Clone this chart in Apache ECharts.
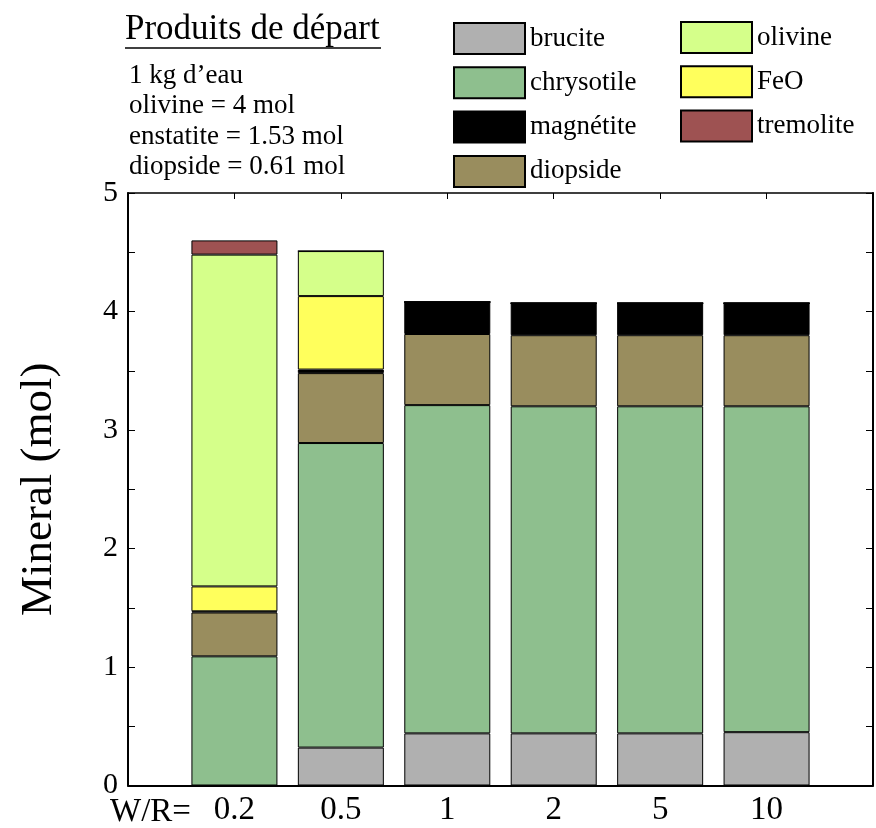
<!DOCTYPE html>
<html>
<head>
<meta charset="utf-8">
<script src="https://cdn.jsdelivr.net/npm/echarts@6/dist/echarts.min.js"></script>
<style>html,body{margin:0;padding:0;background:#fff}#c{width:876px;height:828px}</style>
</head>
<body>
<div id="c"></div>
<script>
// Water/rock ratio categories (empty slots at both ends give the side margins)
const categories = ['', '0.2', '0.5', '1', '2', '5', '10', ''];
// Mineral amounts (mol), stacked bottom to top, for W/R = 0.2, 0.5, 1, 2, 5, 10
const brucite    = [0,    0.32, 0.44, 0.44, 0.44, 0.45];
const chrysotile = [1.09, 2.57, 2.77, 2.76, 2.76, 2.75];
const diopside   = [0.37, 0.59, 0.60, 0.60, 0.60, 0.60];
const magnetite  = [0.01, 0.03, 0.27, 0.27, 0.27, 0.27];
const feo        = [0.21, 0.62, 0,    0,    0,    0];
const olivine    = [2.80, 0.38, 0,    0,    0,    0];
const tremolite  = [0.12, 0,    0,    0,    0,    0];
const yTicks = [0, 1, 2, 3, 4, 5];

const FONT = '"Liberation Serif", "Times New Roman", serif';
const seriesDefs = [
  {name: 'brucite', data: brucite, color: '#b0b0b0'},
  {name: 'chrysotile', data: chrysotile, color: '#8ebf8e'},
  {name: 'diopside', data: diopside, color: '#998d5e'},
  {name: 'magnétite', data: magnetite, color: '#000000'},
  {name: 'FeO', data: feo, color: '#ffff5c'},
  {name: 'olivine', data: olivine, color: '#d5ff8a'},
  {name: 'tremolite', data: tremolite, color: '#9e5252'}
];

const chart = echarts.init(document.getElementById('c'), null, {renderer: 'canvas'});

// pad each series with empty values for the blank end categories
const series = seriesDefs.map(s => ({
  name: s.name,
  type: 'bar',
  stack: 'm',
  barWidth: 86,
  data: [null].concat(s.data).concat([null]),
  itemStyle: {color: s.color, borderColor: '#000', borderWidth: 1},
  emphasis: {disabled: true}
}));

const axisLineStyle = {color: '#000', width: 2};

const option = {
  animation: false,
  backgroundColor: '#fff',
  grid: {left: 128, right: 2, top: 193, bottom: 42.5, containLabel: false},
  legend: [
    {
      orient: 'vertical', left: 453, top: 22, padding: 0, itemWidth: 71, itemHeight: 31, itemGap: 11.3,
      icon: 'rect', selectedMode: false,
      data: ['brucite', 'chrysotile', 'magnétite', 'diopside'],
      textStyle: {fontFamily: FONT, fontSize: 27, color: '#000'}
    },
    {
      orient: 'vertical', left: 680, top: 21, padding: 0, itemWidth: 71, itemHeight: 31, itemGap: 11.3,
      icon: 'rect', selectedMode: false,
      data: ['olivine', 'FeO', 'tremolite'],
      textStyle: {fontFamily: FONT, fontSize: 27, color: '#000'}
    }
  ],
  xAxis: [
    {
      type: 'category', position: 'bottom', data: categories, boundaryGap: false,
      axisLine: {show: true, onZero: false, lineStyle: axisLineStyle},
      axisTick: {show: true, inside: true, length: 6, lineStyle: {color: '#000'}},
      splitLine: {show: false},
      axisLabel: {margin: 8, interval: 0, fontFamily: FONT, fontSize: 33, color: '#000'}
    },
    {
      type: 'category', position: 'top', data: categories, boundaryGap: false,
      axisLine: {show: true, onZero: false, lineStyle: {color: '#000', width: 1.5}},
      axisTick: {show: true, inside: true, length: 6, lineStyle: {color: '#000'}},
      splitLine: {show: false},
      axisLabel: {show: false}
    }
  ],
  yAxis: [
    {
      type: 'value', position: 'left', min: 0, max: 5, interval: 1,
      name: 'Mineral (mol)', nameLocation: 'middle', nameGap: 66,
      nameTextStyle: {fontFamily: FONT, fontSize: 45, color: '#000'},
      axisLine: {show: true, onZero: false, lineStyle: axisLineStyle},
      axisTick: {show: true, inside: true, length: 7, lineStyle: {color: '#000'}},
      minorTick: {show: true, splitNumber: 2, length: 7, lineStyle: {color: '#000'}},
      splitLine: {show: false},
      axisLabel: {
        margin: 10, fontFamily: FONT, fontSize: 30, color: '#000',
        formatter: v => yTicks.indexOf(v) >= 0 ? String(v) : ''
      }
    },
    {
      type: 'value', position: 'right', min: 0, max: 5, interval: 1,
      axisLine: {show: true, onZero: false, lineStyle: axisLineStyle},
      axisTick: {show: true, inside: true, length: 7, lineStyle: {color: '#000'}},
      minorTick: {show: true, splitNumber: 2, length: 7, lineStyle: {color: '#000'}},
      splitLine: {show: false},
      axisLabel: {show: false}
    }
  ],
  graphic: [
    {type: 'text', left: 110, top: 796, style: {text: 'W/R=', font: '33px ' + FONT, fill: '#000'}},
    {type: 'text', left: 125, top: 12, style: {text: 'Produits de départ', font: '35px ' + FONT, fill: '#000'}},
    {type: 'line', shape: {x1: 125, y1: 48, x2: 381, y2: 48}, style: {stroke: '#000', lineWidth: 1.5}},
    {type: 'text', left: 129, top: 62, style: {text: '1 kg d\u2019eau', font: '27px ' + FONT, fill: '#000'}},
    {type: 'text', left: 129, top: 92.5, style: {text: 'olivine = 4 mol', font: '27px ' + FONT, fill: '#000'}},
    {type: 'text', left: 129, top: 123, style: {text: 'enstatite = 1.53 mol', font: '27px ' + FONT, fill: '#000'}},
    {type: 'text', left: 129, top: 153.5, style: {text: 'diopside = 0.61 mol', font: '27px ' + FONT, fill: '#000'}}
  ],
  series: series
};
chart.setOption(option);
</script>
</body>
</html>
